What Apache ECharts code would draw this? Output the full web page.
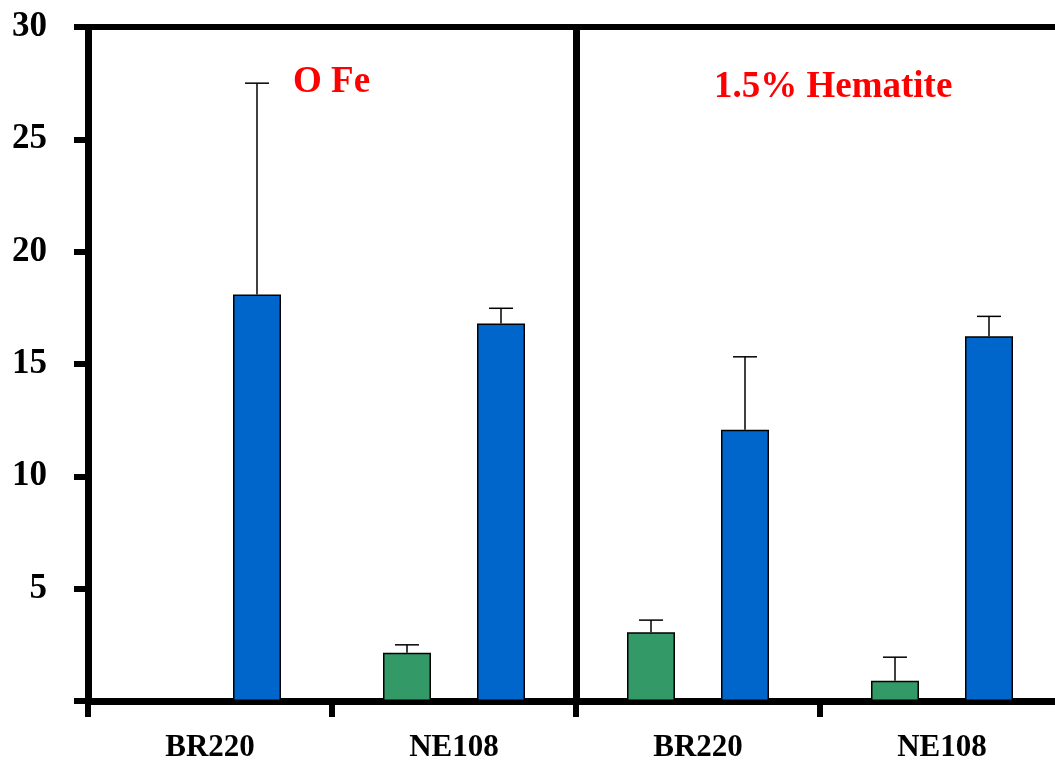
<!DOCTYPE html>
<html>
<head>
<meta charset="utf-8">
<script src="https://cdn.jsdelivr.net/npm/echarts@6/dist/echarts.min.js"></script>
<style>html,body{margin:0;padding:0;background:#fff;overflow:hidden}#c{width:1064px;height:765px}</style>
</head>
<body>
<div id="c"></div>
<script>
const categories = ['BR220', 'NE108', 'BR220', 'NE108'];
const greenValues = [0, 2.15, 3.06, 0.9];
const greenErrTop = [null, 2.5, 3.6, 1.95];
const blueValues = [18.09, 16.8, 12.07, 16.24];
const blueErrTop = [27.5, 17.48, 15.32, 17.12];
const yTicks = [0, 5, 10, 15, 20, 25, 30];
const panelLabels = ['O Fe', '1.5% Hematite'];

const BAR_W = 48;
const GAP = 46;
const OFF = (BAR_W + GAP) / 2;
const FONT = '"Liberation Serif", "Times New Roman", serif';

function errSeries(tops, values, offset) {
  return {
    type: 'custom',
    z: 1,
    data: tops.map((v, i) => v == null ? null : [i, v]).filter(d => d),
    renderItem: function (params, api) {
      const idx = api.value(0);
      const top = api.coord([idx, api.value(1)]);
      const bar = api.coord([idx, values[idx]]);
      const x = top[0] + offset;
      return {
        type: 'group',
        children: [
          { type: 'line', shape: { x1: x, y1: bar[1], x2: x, y2: top[1] }, style: { stroke: '#000', lineWidth: 1.5 } },
          { type: 'line', shape: { x1: x - 12, y1: top[1], x2: x + 12, y2: top[1] }, style: { stroke: '#000', lineWidth: 1.5 } }
        ]
      };
    }
  };
}

const chart = echarts.init(document.getElementById('c'));
chart.setOption({
  animation: false,
  grid: { left: 88, right: 0, top: 27, bottom: 64, show: true, borderColor: '#000', borderWidth: 6, backgroundColor: 'transparent' },
  xAxis: {
    type: 'category',
    data: categories,
    axisLine: { lineStyle: { color: '#000', width: 7 } },
    axisTick: { show: true, inside: false, length: 16, lineStyle: { color: '#000', width: 6 } },
    axisLabel: { color: '#000', fontFamily: FONT, fontWeight: 'bold', fontSize: 31, margin: 31 },
    splitLine: { show: true, interval: 1, lineStyle: { color: '#000', width: 7 } }
  },
  yAxis: {
    type: 'value',
    min: yTicks[0],
    max: yTicks[yTicks.length - 1],
    interval: 5,
    axisLine: { show: true, lineStyle: { color: '#000', width: 6 } },
    axisTick: { show: true, inside: false, length: 14, lineStyle: { color: '#000', width: 6 } },
    axisLabel: { color: '#000', fontFamily: FONT, fontWeight: 'bold', fontSize: 35, margin: 41, formatter: v => v === 0 ? '' : String(v) },
    splitLine: { show: false }
  },
  series: [
    { type: 'bar', data: greenValues, barWidth: BAR_W, barGap: (GAP / BAR_W * 100) + '%', itemStyle: { color: '#339966', borderColor: '#000', borderWidth: 1.5 }, z: 2 },
    { type: 'bar', data: blueValues, barWidth: BAR_W, itemStyle: { color: '#0066CC', borderColor: '#000', borderWidth: 1.5 }, z: 2 },
    errSeries(greenErrTop, greenValues, -OFF),
    errSeries(blueErrTop, blueValues, OFF)
  ],
  graphic: [
    { type: 'text', left: 293, top: 64, style: { text: panelLabels[0], fill: '#ff0000', font: 'bold 37px ' + FONT } },
    { type: 'text', left: 714, top: 69, style: { text: panelLabels[1], fill: '#ff0000', font: 'bold 37px ' + FONT } }
  ]
});
</script>
</body>
</html>
